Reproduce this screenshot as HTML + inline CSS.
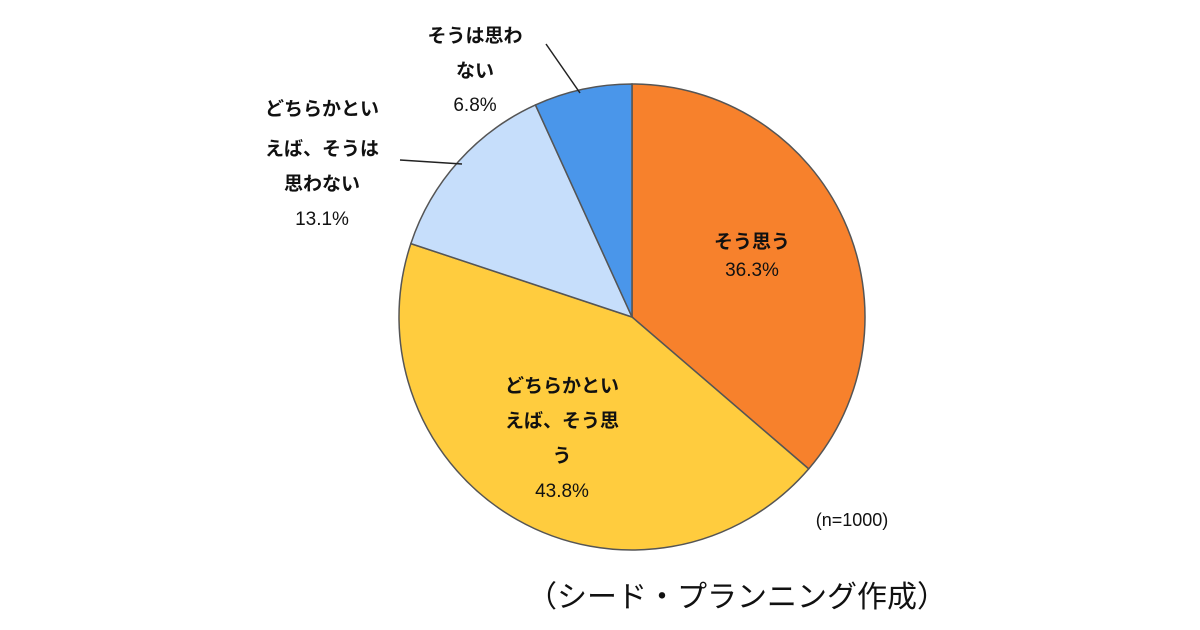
<!DOCTYPE html>
<html><head><meta charset="utf-8"><style>
html,body{margin:0;padding:0;background:#fff;width:1200px;height:630px;overflow:hidden}
svg text{font-family:"Liberation Sans","Noto Sans CJK JP",sans-serif;fill:#111}
</style></head><body>
<svg id="chart" width="1200" height="630" viewBox="0 0 1200 630">
<g id="slices"></g>
<g id="labels" font-size="19" text-anchor="middle">
<text x="752" y="248" font-weight="bold">そう思う</text>
<text x="752" y="276">36.3%</text>
<text x="562" y="392" font-weight="bold">どちらかとい</text>
<text x="562" y="427" font-weight="bold">えば、そう思</text>
<text x="562" y="462" font-weight="bold">う</text>
<text x="562" y="497">43.8%</text>
<text x="322" y="115" font-weight="bold">どちらかとい</text>
<text x="322" y="155" font-weight="bold">えば、そうは</text>
<text x="322" y="190" font-weight="bold">思わない</text>
<text x="322" y="225">13.1%</text>
<text x="475" y="42" font-weight="bold">そうは思わ</text>
<text x="475" y="77" font-weight="bold">ない</text>
<text x="475" y="111">6.8%</text>
</g>
<polyline points="400,160 462,164" stroke="#222" stroke-width="1.5" fill="none"/>
<polyline points="546,44 580,93" stroke="#222" stroke-width="1.5" fill="none"/>
<text x="852" y="526" font-size="18" text-anchor="middle">(n=1000)</text>
<text x="737" y="607" font-size="30" text-anchor="middle">（シード・プランニング作成）</text>
</svg>
<script>
const categories = ["そう思う","どちらかといえば、そう思う","どちらかといえば、そうは思わない","そうは思わない"];
const values = [36.3, 43.8, 13.1, 6.8];
const colors = ["#F7812C","#FFCC3E","#C6DEFB","#4A96EA"];
const cx = 632, cy = 317, r = 233;
const g = document.getElementById('slices');
const total = values.reduce((a,b)=>a+b,0);
function pt(frac){const a=frac*2*Math.PI;return [cx+r*Math.sin(a), cy-r*Math.cos(a)];}
let acc = 0;
values.forEach((v,i)=>{
  const s = pt(acc/total); acc += v; const e = pt(acc/total);
  const large = v/total > 0.5 ? 1 : 0;
  const p = document.createElementNS('http://www.w3.org/2000/svg','path');
  p.setAttribute('d',`M${cx},${cy} L${s[0]},${s[1]} A${r},${r} 0 ${large} 1 ${e[0]},${e[1]} Z`);
  p.setAttribute('fill',colors[i]);
  p.setAttribute('stroke','#555');
  p.setAttribute('stroke-width','1.5');
  
  
  g.appendChild(p);
});
</script>
</body></html>
